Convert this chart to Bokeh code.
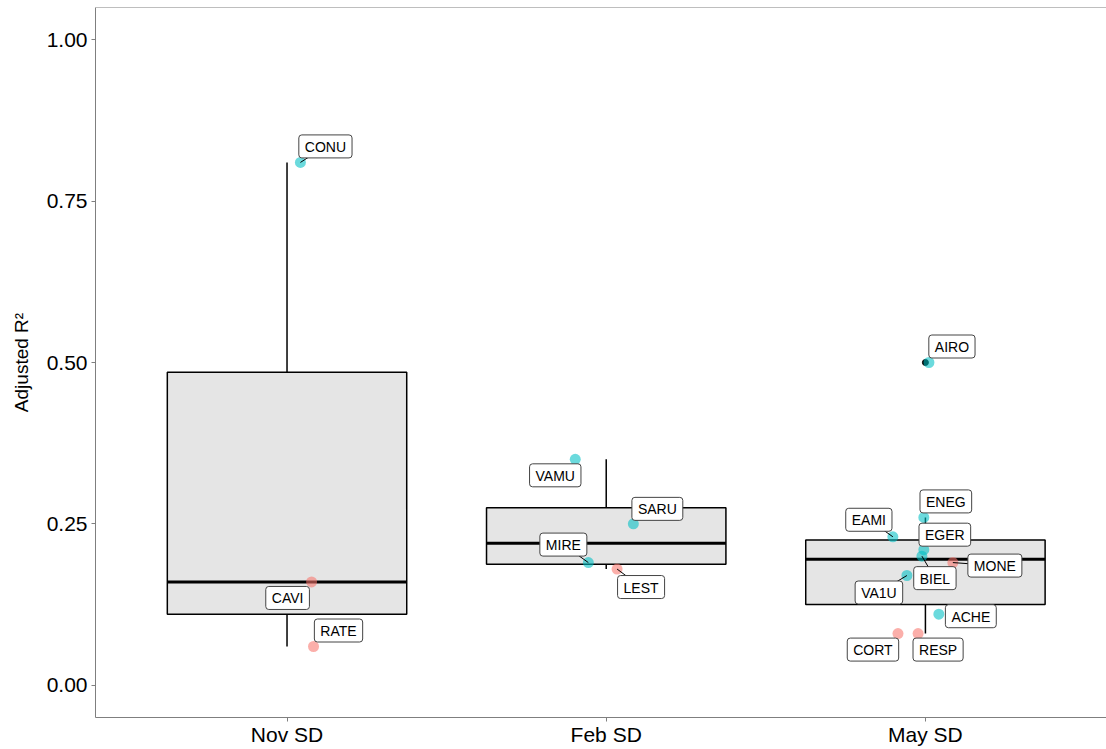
import numpy as np
from bokeh.plotting import figure
from bokeh.models import ColumnDataSource, Range1d, FixedTicker, Span
from bokeh.core.properties import value
from bokeh.embed import file_html
from bokeh.resources import INLINE

# ---- data -------------------------------------------------------------
categories = ["Nov SD", "Feb SD", "May SD"]

species = ["CONU", "CAVI", "RATE",
           "VAMU", "SARU", "MIRE", "LEST",
           "AIRO", "ENEG", "EAMI", "EGER", "BIEL", "MONE", "VA1U", "ACHE", "CORT", "RESP"]
season = ["Nov SD"] * 3 + ["Feb SD"] * 4 + ["May SD"] * 10
adj_r2 = [0.81, 0.16, 0.06,
          0.35, 0.25, 0.19, 0.18,
          0.50, 0.26, 0.23, 0.21, 0.20, 0.19, 0.17, 0.11, 0.08, 0.08]
sign = ["pos", "neg", "neg",
        "pos", "pos", "pos", "neg",
        "pos", "pos", "pos", "pos", "pos", "neg", "pos", "pos", "neg", "neg"]

y_ticks = [0.0, 0.25, 0.50, 0.75, 1.00]
y_tick_labels = ["0.00", "0.25", "0.50", "0.75", "1.00"]

# ---- layout helpers (jitter and repelled label placement) -------------
x_jitter = [0.042, 0.077, 0.083,
            -0.097, 0.085, -0.056, 0.034,
            0.011, -0.005, -0.102, -0.005, -0.011, 0.086, -0.058, 0.042, -0.086, -0.023]
# label centre offset from its point, screen pixels (right, down)
label_dx = [25, -24, 25,
            -20, 24, -25, 24,
            23, 22, -24, 21, 13, 42, -28, 32, -25, 20]
label_dy = [-16, 16, -16,
            16, -15, -18, 18,
            -16, -16, -17, -15, 22, 3, 17, 2, 16, 16]
leader = [True, False, False,
          False, False, True, True,
          False, False, True, False, True, True, True, False, False, False]

FONT = "Liberation Sans"
GREY = "#7F7F7F"
COLORS = {"pos": "#00BFC4", "neg": "#F8766D"}

W, H = 1106, 749
LEFT, TOP, BOTTOM = 95, 7, 32
X0, PX_PER_X = 0.4, 319.2
frame_w = W - LEFT
frame_h = H - TOP - BOTTOM
X1 = X0 + frame_w / PX_PER_X
Y0, Y1 = -0.05, 1.05
PX_PER_Y = frame_h / (Y1 - Y0)

# ---- box statistics ----------------------------------------------------
vals = np.array(adj_r2)
seas = np.array(season)
box = dict(x=[], q1=[], med=[], q3=[], lo=[], hi=[])
out_x, out_y = [], []
for i, cat in enumerate(categories):
    v = vals[seas == cat]
    q1, med, q3 = np.percentile(v, [25, 50, 75])
    iqr = q3 - q1
    inside = v[(v >= q1 - 1.5 * iqr) & (v <= q3 + 1.5 * iqr)]
    box["x"].append(i + 1)
    box["q1"].append(q1)
    box["med"].append(med)
    box["q3"].append(q3)
    box["lo"].append(inside.min())
    box["hi"].append(inside.max())
    for o in v[(v < q1 - 1.5 * iqr) | (v > q3 + 1.5 * iqr)]:
        out_x.append(i + 1)
        out_y.append(o)
box_src = ColumnDataSource(box)

px = [categories.index(s) + 1 + j for s, j in zip(season, x_jitter)]
lx = [x + dx / PX_PER_X for x, dx in zip(px, label_dx)]
ly = [y - dy / PX_PER_Y for y, dy in zip(adj_r2, label_dy)]
pts = ColumnDataSource(dict(x=px, y=adj_r2, name=species, lx=lx, ly=ly,
                            color=[COLORS[s] for s in sign]))
seg = ColumnDataSource(dict(
    x0=[x for x, k in zip(px, leader) if k],
    y0=[y for y, k in zip(adj_r2, leader) if k],
    x1=[x for x, k in zip(lx, leader) if k],
    y1=[y for y, k in zip(ly, leader) if k],
))

# ---- figure ------------------------------------------------------------
p = figure(width=W, height=H, output_backend="svg", toolbar_location=None,
           x_range=Range1d(X0, X1), y_range=Range1d(Y0, Y1),
           min_border_left=LEFT, min_border_right=0,
           min_border_top=TOP, min_border_bottom=BOTTOM,
           background_fill_color="white", border_fill_color="white")
p.grid.visible = False
p.outline_line_color = None

# box plot
p.segment(x0="x", y0="q3", x1="x", y1="hi", source=box_src, line_color="black", line_width=1.5)
p.segment(x0="x", y0="q1", x1="x", y1="lo", source=box_src, line_color="black", line_width=1.5)
p.vbar(x="x", width=0.75, bottom="q1", top="q3", source=box_src,
       fill_color="#E5E5E5", line_color="black", line_width=1.5)
p.segment(x0=[x - 0.375 for x in box["x"]], x1=[x + 0.375 for x in box["x"]],
          y0=box["med"], y1=box["med"], line_color="black", line_width=3)
p.scatter(out_x, out_y, size=6, color="black")

# jittered points
p.scatter("x", "y", source=pts, size=11, fill_color="color", line_color=None, fill_alpha=0.58)

# labels with leader lines
p.segment(x0="x0", y0="y0", x1="x1", y1="y1", source=seg, line_color="black", line_width=1)
p.text(x="lx", y="ly", text="name", source=pts,
       text_align="center", text_baseline="middle",
       text_font=value(FONT), text_font_size="14px", text_color="black",
       background_fill_color="white", border_line_color="#444444", border_line_width=1,
       padding=dict(left=6, right=6, top=4, bottom=3), border_radius=3)

# panel top edge
p.add_layout(Span(location=Y1, dimension="width", line_color=GREY, line_width=1))

# axes
p.xaxis.ticker = FixedTicker(ticks=[1, 2, 3])
p.xaxis.major_label_overrides = {i + 1: c for i, c in enumerate(categories)}
p.yaxis.ticker = FixedTicker(ticks=y_ticks)
p.yaxis.major_label_overrides = dict(zip(y_ticks, y_tick_labels))
p.yaxis.axis_label = "Adjusted R²"
for ax in (p.xaxis[0], p.yaxis[0]):
    ax.axis_line_color = GREY
    ax.axis_line_width = 1
    ax.major_tick_line_color = GREY
    ax.major_tick_in = 0
    ax.major_tick_out = 4
    ax.minor_tick_line_color = None
    ax.major_label_text_font = FONT
    ax.major_label_text_font_size = "21px"
    ax.major_label_text_color = "black"
p.xaxis.major_label_standoff = 1
p.yaxis.major_label_standoff = 4
p.yaxis.axis_label_text_font = FONT
p.yaxis.axis_label_text_font_size = "19px"
p.yaxis.axis_label_text_font_style = "normal"
p.yaxis.axis_label_text_color = "black"
p.yaxis.axis_label_standoff = 12

open("out.html", "w").write(file_html(p, INLINE))
